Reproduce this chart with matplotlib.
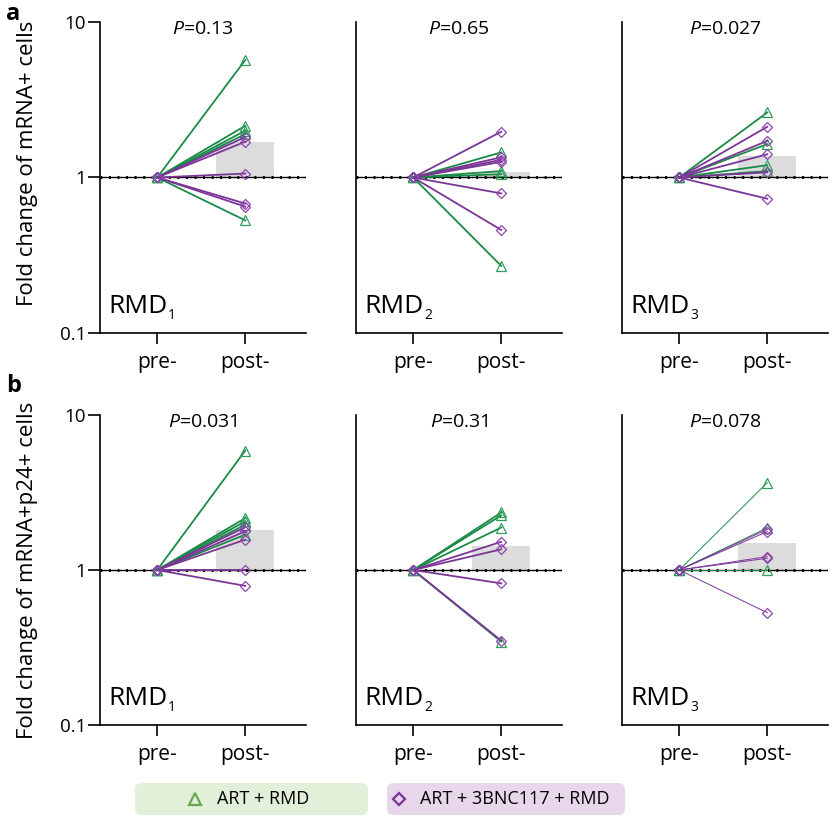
import matplotlib.pyplot as plt
from matplotlib.patches import FancyBboxPatch
from matplotlib.lines import Line2D

plt.rcParams['font.family'] = ['Open Sans', 'DejaVu Sans']
plt.rcParams['mathtext.fontset'] = 'custom'
plt.rcParams['mathtext.rm'] = 'Open Sans'
plt.rcParams['mathtext.it'] = 'Open Sans:italic'

W, H = 833, 821

# post-treatment fold changes (pre = 1 for every subject)
a1_green = [5.7, 2.15, 2.0, 1.9, 0.53]
a1_purple = [1.82, 1.7, 1.06, 0.68, 0.65]
a2_green = [1.45, 1.1, 1.05, 0.27]
a2_purple = [1.97, 1.35, 1.3, 1.26, 0.79, 0.46]
a3_green = [2.62, 1.64, 1.2, 1.1]
a3_purple = [2.12, 1.72, 1.41, 1.08, 0.73]

b1_green = [5.9, 2.16, 2.06, 1.96, 1.69]
b1_purple = [1.89, 1.78, 1.57, 1.0, 0.79]
b2_green = [2.35, 2.25, 1.88, 0.345]
b2_purple = [1.52, 1.36, 0.82, 0.35]
b3_green = [3.66, 1.87, 1.0]
b3_purple = [1.83, 1.77, 1.22, 1.19, 0.53]

bars_a = [1.7, 1.09, 1.38]
bars_b = [1.8, 1.43, 1.49]
pvals_a = ['0.13', '0.65', '0.027']
pvals_b = ['0.031', '0.31', '0.078']
panel_subs = ['1', '2', '3']
xticklabels = ['pre-', 'post-']
ylabels = ['Fold change of mRNA+ cells', 'Fold change of mRNA+p24+ cells']
legend_labels = ['ART + RMD', 'ART + 3BNC117 + RMD']

GREEN = '#1a8a47'
GREEN_M = '#2e9e5b'
PURPLE = '#7b3597'
PURPLE_M = '#8e44ad'

fig = plt.figure(figsize=(W / 100, H / 100), dpi=100)


def px_axes(left, top, w, h):
    return fig.add_axes([left / W, 1 - (top + h) / H, w / W, h / H])


rows = [
    (22, 311, [a1_green, a2_green, a3_green], [a1_purple, a2_purple, a3_purple], bars_a, pvals_a, [1.3, 1.3, 1.3]),
    (415, 310, [b1_green, b2_green, b3_green], [b1_purple, b2_purple, b3_purple], bars_b, pvals_b, [1.3, 1.3, 0.7]),
]
lefts = [100, 356, 622]

for top, h, greens, purples, bars, pvals, lws in rows:
    for i in range(3):
        ax = px_axes(lefts[i], top, 206, h)
        ax.set_yscale('log')
        ax.set_ylim(0.1, 10)
        ax.set_xlim(0.35, 2.69)
        ax.bar([2], [bars[i] - 1], bottom=1, width=0.66, color='#dcdcdc', zorder=1)
        ax.axhline(1, color='black', lw=1.0, zorder=2)
        ax.axhline(1, color='black', lw=2.2, ls=(0, (0.6, 2.2)), zorder=2)
        for v in greens[i]:
            ax.plot([1, 2], [1, v], color=GREEN, lw=lws[i], zorder=3,
                    marker='^', ms=7, mfc='none', mec=GREEN_M, mew=0.9)
        for v in purples[i]:
            ax.plot([1, 2], [1, v], color=PURPLE, lw=lws[i], zorder=3,
                    marker='D', ms=5.5, mfc='none', mec=PURPLE_M, mew=0.9)
        for s in ['top', 'right']:
            ax.spines[s].set_visible(False)
        for s in ['left', 'bottom']:
            ax.spines[s].set_linewidth(1.2)
        ax.set_xticks([1, 2])
        ax.set_xticklabels(xticklabels, fontsize=15)
        ax.tick_params(axis='x', length=8, width=1.2, pad=6)
        ax.minorticks_off()
        if i == 0:
            ax.set_yticks([0.1, 1, 10])
            ax.set_yticklabels(['0.1', '1', '10'], fontsize=13.5)
            ax.tick_params(axis='y', length=9, width=1.2, pad=1)
        else:
            ax.set_yticks([])
        ax.text(0.5, 1.005, r'$\it{P}$=' + pvals[i], transform=ax.transAxes,
                ha='center', va='top', fontsize=14)
        rmd = ax.text(0.04, 0.045, 'RMD', transform=ax.transAxes,
                      ha='left', va='bottom', fontsize=19)
        ax.annotate(panel_subs[i], xy=(1, 0), xycoords=rmd, xytext=(0.5, -3),
                    textcoords='offset points', ha='left', va='bottom', fontsize=10)

fig.text(28 / W, 1 - 163 / H, ylabels[0], rotation=90, ha='center', va='center', fontsize=16)
fig.text(28 / W, 1 - 570 / H, ylabels[1], rotation=90, ha='center', va='center', fontsize=16)
fig.text(6 / W, 1 - 2 / H, 'a', fontsize=17, fontweight='bold', ha='left', va='top')
fig.text(6 / W, 1 - 374 / H, 'b', fontsize=17, fontweight='bold', ha='left', va='top')

# legend boxes
boxes = [(135, 368, '#e2efd9', '^', '#6aa84f', 195, 217), (387, 625, '#e8d7ea', 'D', '#7b3597', 399, 420)]
for (x0, x1, fc, mk, mc, mx, tx), lab in zip(boxes, legend_labels):
    fig.patches.append(FancyBboxPatch((x0 / W, 1 - 815 / H), (x1 - x0) / W, 32 / H,
                                      boxstyle='round,pad=0,rounding_size=0.008',
                                      transform=fig.transFigure, fc=fc, ec='none'))
    fig.lines.append(Line2D([mx / W], [1 - 799 / H], marker=mk, ms=8 if mk == '^' else 6,
                            mfc='none', mec=mc, mew=1.6, transform=fig.transFigure))
    fig.text(tx / W, 1 - 799 / H, lab, fontsize=13, ha='left', va='center')

fig.savefig('out.png', dpi=100)
